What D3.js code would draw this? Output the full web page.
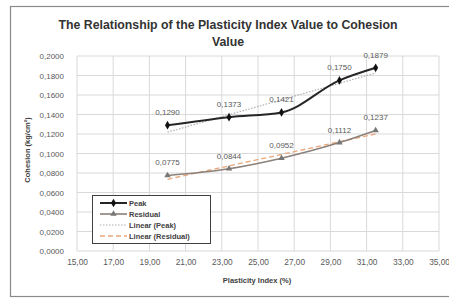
<!DOCTYPE html>
<html><head><meta charset="utf-8">
<script src="https://cdn.jsdelivr.net/npm/d3@7"></script>
<style>body{margin:0;background:#fff}svg{display:block}text{font-family:"Liberation Sans",Arial,sans-serif}</style>
</head><body>
<script>
const plasticityIndex = [20.0, 23.4, 26.3, 29.5, 31.5];
const peakValues = [0.1290, 0.1373, 0.1421, 0.1750, 0.1879];
const residualValues = [0.0775, 0.0844, 0.0952, 0.1112, 0.1237];
const xTicks = [15, 17, 19, 21, 23, 25, 27, 29, 31, 33, 35];
const yTicks = [0, 0.02, 0.04, 0.06, 0.08, 0.10, 0.12, 0.14, 0.16, 0.18, 0.20];
const legendLabels = ["Peak", "Residual", "Linear (Peak)", "Linear (Residual)"];

const W = 449, H = 299;
const svg = d3.select("body").append("svg").attr("width", W).attr("height", H);
svg.append("rect").attr("x", 10.5).attr("y", 6.5).attr("width", 445).attr("height", 290)
  .attr("fill", "#fff").attr("stroke", "#8a8a8a").attr("stroke-width", 1.2);

const x = d3.scaleLinear().domain([15, 35]).range([77, 439]);
const y = d3.scaleLinear().domain([0, 0.2]).range([251, 56]);
const fmt = v => d3.format(".4f")(v).replace(".", ",");
const fmt2 = v => d3.format(".2f")(v).replace(".", ",");

// grid
svg.append("g").selectAll("line").data(yTicks).join("line")
  .attr("x1", x(15)).attr("x2", x(35)).attr("y1", d => y(d)).attr("y2", d => y(d))
  .attr("stroke", "#d9d9d9").attr("stroke-width", 1);
svg.append("g").selectAll("line").data(xTicks).join("line")
  .attr("y1", y(0)).attr("y2", y(0.2)).attr("x1", d => x(d)).attr("x2", d => x(d))
  .attr("stroke", "#d9d9d9").attr("stroke-width", 1);

// axes
const yAxis = d3.axisLeft(y).tickValues(yTicks).tickFormat(fmt).tickSize(0).tickPadding(13);
const gy = svg.append("g").attr("transform", `translate(${x(15)},0)`).call(yAxis);
gy.select(".domain").remove();
gy.selectAll("text").attr("font-size", 8).attr("fill", "#595959");
const xAxis = d3.axisBottom(x).tickValues(xTicks).tickFormat(fmt2).tickSize(0).tickPadding(8);
const gx = svg.append("g").attr("transform", `translate(0,${y(0)})`).call(xAxis);
gx.select(".domain").remove();
gx.selectAll("text").attr("font-size", 8.3).attr("fill", "#595959");

// titles
const title = svg.append("text").attr("x", 228).attr("text-anchor", "middle")
  .attr("font-size", 12.3).attr("font-weight", "bold").attr("fill", "#333");
title.append("tspan").attr("x", 228).attr("y", 29).text("The Relationship of the Plasticity Index Value to Cohesion");
title.append("tspan").attr("x", 228).attr("y", 46).text("Value");
svg.append("text").attr("x", 257).attr("y", 283).attr("text-anchor", "middle")
  .attr("font-size", 7.5).attr("font-weight", "bold").attr("fill", "#404040").text("Plasticity Index (%)");
svg.append("text").attr("transform", "translate(30,150) rotate(-90)").attr("text-anchor", "middle")
  .attr("font-size", 7.5).attr("font-weight", "bold").attr("fill", "#404040").text("Cohesion (kg/cm²)");

// trendlines (least squares of the series)
function trend(xs, ys) {
  const n = xs.length, mx = d3.mean(xs), my = d3.mean(ys);
  let sxy = 0, sxx = 0;
  for (let i = 0; i < n; i++) { sxy += (xs[i] - mx) * (ys[i] - my); sxx += (xs[i] - mx) ** 2; }
  const b = sxy / sxx, a = my - b * mx;
  const x0 = d3.min(xs), x1 = d3.max(xs);
  return [[x0, a + b * x0], [x1, a + b * x1]];
}
const line = d3.line().x(d => x(d[0])).y(d => y(d[1]));
const curve = d3.line().x(d => x(d[0])).y(d => y(d[1])).curve(d3.curveMonotoneX);

svg.append("path").attr("d", line(trend(plasticityIndex, peakValues)))
  .attr("fill", "none").attr("stroke", "#b0b0b0").attr("stroke-width", 1.2).attr("stroke-dasharray", "1.5,1.5");
svg.append("path").attr("d", line(trend(plasticityIndex, residualValues)))
  .attr("fill", "none").attr("stroke", "#e8a77a").attr("stroke-width", 1.3).attr("stroke-dasharray", "5,3");

const peakPts = plasticityIndex.map((v, i) => [v, peakValues[i]]);
const resPts = plasticityIndex.map((v, i) => [v, residualValues[i]]);

svg.append("path").attr("d", curve(resPts)).attr("fill", "none").attr("stroke", "#8c8079").attr("stroke-width", 1.6);
svg.append("path").attr("d", curve(peakPts)).attr("fill", "none").attr("stroke", "#262626").attr("stroke-width", 2);

const diamond = d3.symbol().type(d3.symbolDiamond).size(22);
const tri = d3.symbol().type(d3.symbolTriangle).size(18);
svg.append("g").selectAll("path").data(peakPts).join("path")
  .attr("transform", d => `translate(${x(d[0])},${y(d[1])})`).attr("d", diamond).attr("fill", "#111");
svg.append("g").selectAll("path").data(resPts).join("path")
  .attr("transform", d => `translate(${x(d[0])},${y(d[1])})`).attr("d", tri).attr("fill", "#777");

// data labels
svg.append("g").selectAll("text").data(peakPts).join("text")
  .attr("x", d => x(d[0])).attr("y", d => y(d[1]) - 10).attr("text-anchor", "middle")
  .attr("font-size", 8).attr("fill", "#595959").text(d => fmt(d[1]));
svg.append("g").selectAll("text").data(resPts).join("text")
  .attr("x", d => x(d[0])).attr("y", d => y(d[1]) - 10).attr("text-anchor", "middle")
  .attr("font-size", 8).attr("fill", "#595959").text(d => fmt(d[1]));

// legend
const lg = svg.append("g");
lg.append("rect").attr("x", 92.5).attr("y", 195.5).attr("width", 118).attr("height", 48)
  .attr("fill", "#fff").attr("stroke", "#404040").attr("stroke-width", 1);
const ly = [203, 214, 225, 236];
const styles = [
  {stroke: "#262626", w: 2, dash: null, marker: diamond, mfill: "#111"},
  {stroke: "#8c8079", w: 1.6, dash: null, marker: tri, mfill: "#777"},
  {stroke: "#b0b0b0", w: 1.2, dash: "1.5,1.5", marker: null},
  {stroke: "#e8a77a", w: 1.3, dash: "5,3", marker: null}
];
legendLabels.forEach((lab, i) => {
  const s = styles[i];
  lg.append("line").attr("x1", 100).attr("x2", 127).attr("y1", ly[i]).attr("y2", ly[i])
    .attr("stroke", s.stroke).attr("stroke-width", s.w).attr("stroke-dasharray", s.dash);
  if (s.marker) lg.append("path").attr("transform", `translate(113.5,${ly[i]})`).attr("d", s.marker).attr("fill", s.mfill);
  lg.append("text").attr("x", 129).attr("y", ly[i] + 2.5).attr("font-size", 7.5)
    .attr("font-weight", "bold").attr("fill", "#404040").text(lab);
});
</script>
</body></html>
